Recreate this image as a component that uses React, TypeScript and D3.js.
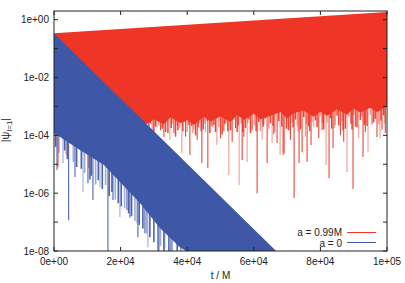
import React from "react";
import * as d3 from "d3";

const W = 405, H = 283;
const M = { left: 54, right: 387, top: 11, bottom: 251 };

const xTicks = [0, 2e4, 4e4, 6e4, 8e4, 1e5];
const xTickLabels = ["0e+00", "2e+04", "4e+04", "6e+04", "8e+04", "1e+05"];
const yTicks = [1, 1e-1, 1e-2, 1e-3, 1e-4, 1e-5, 1e-6, 1e-7, 1e-8];
const yTickLabels = ["1e+00", "", "1e-02", "", "1e-04", "", "1e-06", "", "1e-08"];

// a = 0.99M : envelope of the oscillation
const redUpperT = [0, 1e5];
const redUpperV = [0.34, 1.85];
const redLowerT = [0, 2.0e4, 2.5e4, 2.7e4, 3.0e4, 3.3e4, 3.5e4, 3.8e4, 4.0e4, 4.2e4, 4.5e4, 4.7e4, 5.0e4,
  5.3e4, 5.5e4, 5.7e4, 6.0e4, 6.2e4, 6.5e4, 6.8e4, 7.0e4, 7.2e4, 7.5e4, 7.8e4, 8.0e4, 8.2e4, 8.5e4,
  8.8e4, 9.0e4, 9.2e4, 9.5e4, 9.7e4, 1e5];
const redLowerV = [4.0e-4, 4.0e-4, 3.0e-4, 2.2e-4, 3.6e-4, 2.4e-4, 4.2e-4, 2.6e-4, 3.4e-4, 2.3e-4, 4.4e-4,
  3.0e-4, 4.6e-4, 2.9e-4, 5.2e-4, 3.4e-4, 5.6e-4, 3.6e-4, 4.8e-4, 6.4e-4, 3.9e-4, 5.8e-4, 7.2e-4,
  4.4e-4, 6.6e-4, 4.8e-4, 8.0e-4, 5.2e-4, 8.6e-4, 6.0e-4, 9.0e-4, 6.4e-4, 1.0e-3];
// deep minima of a = 0.99M  [t, |psi|]
const redDeep: [number, number][] = [
  [1.2e3, 8.0e-6], [3.6e3, 2.1e-5], [1.05e4, 7.4e-6], [2.8e4, 2.5e-4], [3.09e4, 1.9e-4], [3.2e4, 1.5e-4],
  [3.3e4, 8.7e-5], [3.48e4, 6.9e-5], [3.6e4, 1.2e-4], [3.7e4, 2.2e-4], [3.84e4, 2.4e-5], [3.95e4, 9e-5],
  [4.08e4, 2.1e-5], [4.2e4, 1.6e-4], [4.3e4, 7e-5], [4.44e4, 1.1e-5], [4.55e4, 1.3e-4], [4.62e4, 7.4e-6],
  [4.75e4, 2.0e-4], [4.89e4, 4.6e-5], [5.0e4, 8e-5], [5.1e4, 1.4e-4], [5.25e4, 4.2e-6], [5.35e4, 6e-5],
  [5.45e4, 1.8e-4], [5.56e4, 1.9e-6], [5.65e4, 1.4e-5], [5.7e4, 9e-5], [5.8e4, 1.2e-5], [5.95e4, 1.5e-4],
  [6.1e4, 1.0e-6], [6.25e4, 7e-5], [6.3e4, 2.4e-4], [6.4e4, 1.1e-5], [6.55e4, 5.4e-5], [6.6e4, 1.1e-4],
  [6.7e4, 5.4e-5], [6.79e4, 2.1e-5], [6.88e4, 2.1e-5], [6.91e4, 2.4e-5], [7.0e4, 1.6e-4], [7.1e4, 7e-5],
  [7.21e4, 6.8e-7], [7.3e4, 2.2e-4], [7.36e4, 1.1e-5], [7.45e4, 2.6e-5], [7.55e4, 9e-5], [7.6e4, 1.2e-5],
  [7.72e4, 4.6e-5], [7.8e4, 1.9e-4], [7.95e4, 8e-5], [8.05e4, 1.5e-4], [8.17e4, 9.4e-6], [8.26e4, 3.3e-6],
  [8.38e4, 3.6e-5], [8.45e4, 2.3e-4], [8.6e4, 1.0e-4], [8.7e4, 6e-5], [8.8e4, 5.4e-6], [8.98e4, 1.4e-6],
  [9.05e4, 2.0e-4], [9.15e4, 8e-5], [9.28e4, 1.8e-5], [9.35e4, 1.3e-4], [9.43e4, 2.6e-5], [9.55e4, 2.4e-4],
  [9.7e4, 8.7e-5], [9.79e4, 8.1e-5], [9.85e4, 1.6e-4], [9.95e4, 1.2e-4],
];
// shallow minima of a = 0.99M
const redShallow: [number, number][] = [
  [2.55e4, 3e-4], [2.6e4, 1.3e-4], [2.65e4, 2e-4], [2.7e4, 1.6e-4], [2.75e4, 1.4e-4], [2.85e4, 1.2e-4],
  [2.9e4, 2.6e-4], [2.95e4, 1.5e-4], [3.0e4, 1.1e-4], [3.05e4, 2.0e-4], [3.15e4, 2.2e-4], [3.25e4, 1.7e-4],
  [3.35e4, 1.3e-4], [3.38e4, 3e-4], [3.42e4, 1.2e-4], [3.52e4, 1.8e-4], [3.55e4, 2.4e-4], [3.65e4, 9e-5],
  [3.72e4, 1.5e-4], [3.77e4, 1.8e-4], [3.87e4, 1.4e-4], [3.9e4, 2.9e-4], [4.0e4, 1.3e-4], [4.05e4, 2.3e-4],
  [4.13e4, 2.1e-4], [4.17e4, 1.2e-4], [4.25e4, 1.0e-4], [4.33e4, 1.9e-4], [4.36e4, 2.7e-4], [4.42e4, 1.4e-4],
  [4.48e4, 1.6e-4], [4.52e4, 2.5e-4], [4.6e4, 3.2e-4], [4.68e4, 1.2e-4], [4.72e4, 2.2e-4], [4.8e4, 2.3e-4],
  [4.85e4, 1.3e-4], [4.95e4, 1.9e-4], [5.05e4, 1.1e-4], [5.13e4, 2.4e-4], [5.17e4, 2.8e-4], [5.22e4, 1.4e-4],
  [5.3e4, 1.5e-4], [5.4e4, 3.4e-4], [5.5e4, 1.3e-4], [5.53e4, 2.2e-4], [5.62e4, 2.5e-4], [5.67e4, 1.3e-4],
  [5.75e4, 1.8e-4], [5.82e4, 2.6e-4], [5.85e4, 3.6e-4], [5.9e4, 1.2e-4], [6.02e4, 2.2e-4], [6.07e4, 1.4e-4],
  [6.15e4, 2.9e-4], [6.2e4, 1.4e-4], [6.28e4, 2.0e-4], [6.35e4, 3.8e-4], [6.45e4, 1.7e-4], [6.5e4, 2.6e-4],
  [6.58e4, 2.1e-4], [6.63e4, 1.3e-4], [6.75e4, 3.1e-4], [6.84e4, 2.0e-4], [6.95e4, 4.0e-4], [6.98e4, 1.7e-4],
  [7.05e4, 1.5e-4], [7.15e4, 2.7e-4], [7.18e4, 1.9e-4], [7.25e4, 3.5e-4], [7.33e4, 1.4e-4], [7.4e4, 1.6e-4],
  [7.5e4, 4.2e-4], [7.58e4, 2.4e-4], [7.65e4, 2.1e-4], [7.68e4, 1.4e-4], [7.75e4, 2.9e-4], [7.85e4, 3.3e-4],
  [7.9e4, 1.9e-4], [8.0e4, 4.5e-4], [8.08e4, 2.6e-4], [8.1e4, 1.6e-4], [8.2e4, 2.8e-4], [8.3e4, 3.9e-4],
  [8.34e4, 1.7e-4], [8.42e4, 1.8e-4], [8.5e4, 4.8e-4], [8.55e4, 2.2e-4], [8.65e4, 3.0e-4], [8.68e4, 1.5e-4],
  [8.75e4, 1.7e-4], [8.85e4, 4.4e-4], [8.92e4, 2.5e-4], [8.95e4, 1.6e-4], [9.0e4, 5e-4], [9.1e4, 1.9e-4],
  [9.2e4, 3.4e-4], [9.25e4, 4.6e-4], [9.32e4, 2.3e-4], [9.4e4, 2.1e-4], [9.5e4, 5.2e-4], [9.6e4, 2.8e-4],
  [9.65e4, 3.7e-4], [9.75e4, 2.4e-4], [9.82e4, 3.2e-4], [9.9e4, 4.9e-4], [9.93e4, 2.6e-4],
];

// a = 0
const blueUpperT = [0, 6.67e4];
const blueUpperV = [0.34, 1e-8];
const blueLowerT = [0, 7.8e3, 1.5e4, 2.58e4, 3.18e4, 3.78e4, 3.96e4];
const blueLowerV = [1.2e-4, 3.1e-5, 9.4e-6, 4.6e-7, 6.2e-8, 1.35e-8, 1e-8];
const blueDeep: [number, number][] = [
  [9e2, 6.4e-6], [2.7e3, 1.1e-5], [4.4e3, 1.15e-7], [6.3e3, 3.6e-6], [8.7e3, 1.1e-6], [1.02e4, 2.2e-6],
  [1.17e4, 5.8e-7], [1.38e4, 1.6e-6], [1.62e4, 1e-8], [1.77e4, 5.8e-7], [1.98e4, 1.5e-7], [2.19e4, 2.6e-7],
  [2.28e4, 1.4e-7], [2.49e4, 9e-8], [2.52e4, 3.0e-8], [2.73e4, 4.1e-8], [2.82e4, 1.35e-8], [3.12e4, 1e-8],
  [3.15e4, 1e-8], [3.33e4, 1.2e-8], [3.51e4, 1e-8], [3.81e4, 1e-8],
];
const blueShallow: [number, number][] = [
  [5e2, 4e-5], [1.5e3, 2.5e-5], [3.2e3, 3e-5], [4e3, 1.5e-5], [5.8e3, 1.2e-5], [6.8e3, 8e-6],
  [8.2e3, 7e-6], [9.2e3, 5e-6], [1.08e4, 3e-6], [1.12e4, 4e-6], [1.25e4, 2e-6], [1.33e4, 2.8e-6],
  [1.45e4, 1.4e-6], [1.55e4, 1.9e-6], [1.66e4, 8e-7], [1.74e4, 1.1e-6], [1.84e4, 6e-7], [1.93e4, 4.5e-7],
  [2.02e4, 3.5e-7], [2.12e4, 3e-7], [2.24e4, 2e-7], [2.33e4, 1.6e-7], [2.43e4, 1.1e-7], [2.56e4, 8e-8],
  [2.67e4, 6e-8], [2.78e4, 4e-8], [2.88e4, 3e-8], [3.0e4, 2e-8], [3.2e4, 1.5e-8], [3.3e4, 1e-8],
  [3.45e4, 1e-8], [3.55e4, 1e-8], [3.7e4, 1e-8],
];

const RED = "#ee3526";
const BLUE = "#3e57a6";
const FONT = "'Liberation Sans', Arial, Helvetica, sans-serif";

export default function App() {
  const x = d3.scaleLinear().domain([0, 1e5]).range([M.left, M.right]);
  const y = d3.scaleLog().domain([1e-8, 2]).range([M.bottom, M.top]);

  const interpLog = (ts: number[], vs: number[], t: number) => {
    const i = Math.max(1, Math.min(ts.length - 1, d3.bisectLeft(ts, t)));
    const t0 = ts[i - 1], t1 = ts[i];
    const f = Math.max(0, Math.min(1, (t - t0) / (t1 - t0)));
    return Math.exp(Math.log(vs[i - 1]) * (1 - f) + Math.log(vs[i]) * f);
  };

  const bandPath = (uT: number[], uV: number[], lT: number[], lV: number[]) => {
    const upper = uT.map((t, i) => [x(t), y(Math.max(uV[i], 1e-8))] as [number, number]);
    const lower = lT.map((t, i) => [x(t), y(Math.max(lV[i], 1e-8))] as [number, number]).reverse();
    return d3.line()([...upper, ...lower]) + "Z";
  };

  const redBand = bandPath(redUpperT, redUpperV, redLowerT, redLowerV);
  const blueBand = bandPath(blueUpperT, blueUpperV, blueLowerT, blueLowerV);

  const spikes = (data: [number, number][], lT: number[], lV: number[], color: string, key: string, w: number) =>
    data.map(([t, v], i) => (
      <line key={key + i} x1={x(t)} x2={x(t)} y1={y(interpLog(lT, lV, t)) - 3}
        y2={y(Math.max(v, 1e-8))} stroke={color} strokeWidth={w}
        strokeOpacity={i % 3 === 1 ? 0.5 : 0.92} />
    ));

  return (
    <svg width={W} height={H} style={{ display: "block", position: "absolute", left: 0, top: 0 }}>
      <defs>
        <clipPath id="plot">
          <rect x={M.left} y={M.top} width={M.right - M.left} height={M.bottom - M.top} />
        </clipPath>
      </defs>
      <rect x={0} y={0} width={W} height={H} fill="#fff" />
      <g clipPath="url(#plot)">
        <path d={redBand} fill={RED} />
        {spikes(redShallow, redLowerT, redLowerV, RED, "rs", 1.5)}
        {spikes(redDeep, redLowerT, redLowerV, RED, "rd", 1.1)}
        <path d={blueBand} fill={BLUE} />
        {spikes(blueShallow, blueLowerT, blueLowerV, BLUE, "bs", 1.6)}
        {spikes(blueDeep, blueLowerT, blueLowerV, BLUE, "bd", 1.1)}
      </g>
      <rect x={M.left} y={M.top} width={M.right - M.left} height={M.bottom - M.top}
        fill="none" stroke="#222" strokeWidth={1} />
      {xTicks.map((t, i) => (
        <g key={"xt" + i}>
          <line x1={x(t)} x2={x(t)} y1={M.bottom} y2={M.bottom - 4} stroke="#222" />
          <line x1={x(t)} x2={x(t)} y1={M.top} y2={M.top + 4} stroke="#222" />
          <text x={x(t)} y={265} fontSize={10} fontFamily={FONT} textAnchor="middle" fill="#222">
            {xTickLabels[i]}
          </text>
        </g>
      ))}
      {yTicks.map((v, i) => (
        <g key={"yt" + i}>
          <line x1={M.left} x2={M.left + 4} y1={y(v)} y2={y(v)} stroke="#222" />
          <line x1={M.right} x2={M.right - 4} y1={y(v)} y2={y(v)} stroke="#222" />
          {yTickLabels[i] && (
            <text x={49} y={y(v) + 3.5} fontSize={10} fontFamily={FONT} textAnchor="end" fill="#222">
              {yTickLabels[i]}
            </text>
          )}
        </g>
      ))}
      <text x={(M.left + M.right) / 2} y={279} fontSize={10} fontFamily={FONT} textAnchor="middle" fill="#222">
        t / M
      </text>
      <text transform="translate(9,130) rotate(-90)" fontSize={11} fontFamily={FONT} textAnchor="middle" fill="#222">
        |ψ<tspan dy={2.5} fontSize={8}>l=1</tspan><tspan dy={-2.5}>|</tspan>
      </text>
      <text x={342} y={236} fontSize={10} fontFamily={FONT} textAnchor="end" fill="#222">a = 0.99M</text>
      <line x1={347} x2={376} y1={232.5} y2={232.5} stroke={RED} strokeWidth={1} />
      <text x={342} y={246.5} fontSize={10} fontFamily={FONT} textAnchor="end" fill="#222">a = 0</text>
      <line x1={347} x2={376} y1={242.5} y2={242.5} stroke={BLUE} strokeWidth={1} />
    </svg>
  );
}
